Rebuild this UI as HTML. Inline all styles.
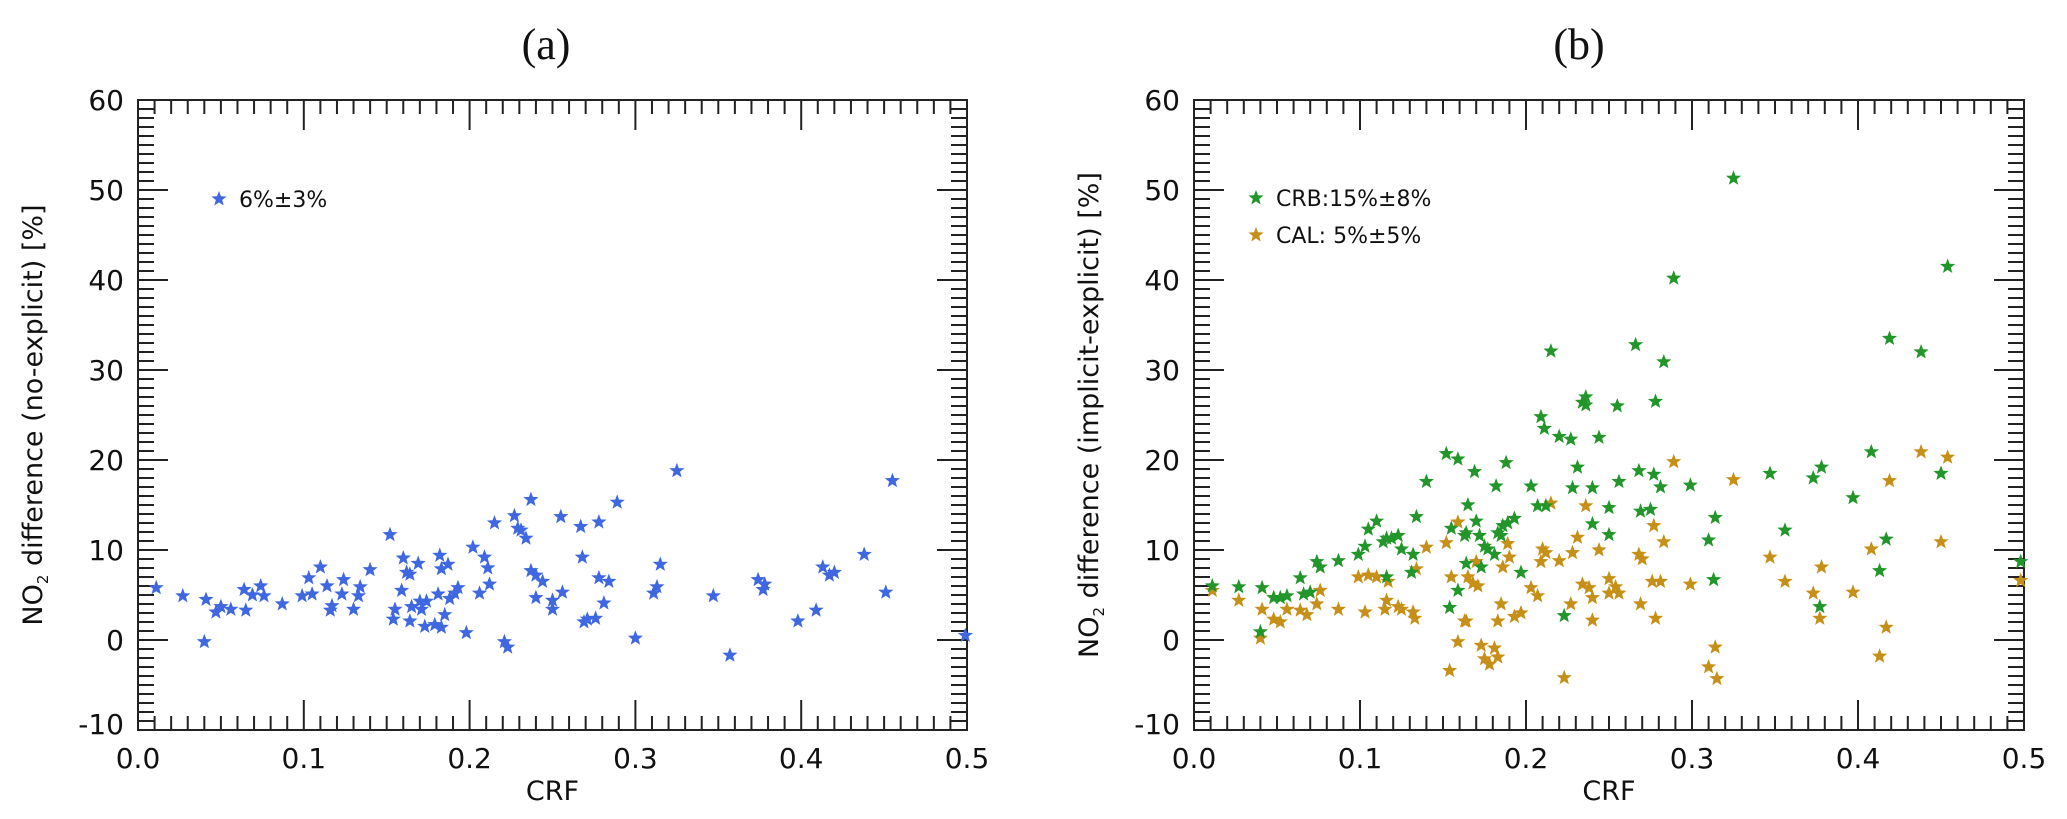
<!DOCTYPE html>
<html><head><meta charset="utf-8"><style>
html,body{margin:0;padding:0;background:#fff;}
svg{display:block;}
text{font-family:"DejaVu Sans","Liberation Sans",sans-serif;fill:#111;}
</style></head><body>
<svg id="fig" width="2067" height="819" viewBox="0 0 2067 819" xmlns="http://www.w3.org/2000/svg"></svg>
<script>
const xTicks=[0.0,0.1,0.2,0.3,0.4,0.5];
const xTickLabels=["0.0","0.1","0.2","0.3","0.4","0.5"];
const yTicks=[-10,0,10,20,30,40,50,60];
const yTickLabels=["-10","0","10","20","30","40","50","60"];
const aX=[.011,.027,.041,.040,.047,.050,.056,.064,.065,.069,.074,.076,.087,.099,.103,.105,.110,.114,.116,.117,.123,.124,.130,.133,.134,.140,.152,.154,.155,.159,.160,.162,.164,.164,.165,.169,.170,.171,.173,.174,.179,.181,.182,.183,.183,.185,.187,.188,.191,.193,.198,.202,.206,.209,.211,.212,.215,.221,.223,.227,.229,.231,.234,.237,.237,.240,.240,.244,.250,.250,.255,.256,.267,.268,.269,.271,.276,.278,.278,.281,.284,.289,.300,.311,.313,.315,.325,.347,.357,.374,.378,.377,.398,.409,.413,.417,.420,.438,.451,.455,.499];
const aY=[5.8,4.9,4.5,-0.2,3.1,3.7,3.4,5.6,3.3,5.0,6.0,4.9,4.0,4.9,6.9,5.1,8.1,6.0,3.3,3.8,5.1,6.7,3.4,4.9,5.9,7.8,11.7,2.3,3.4,5.5,9.1,7.5,7.3,2.1,3.7,8.5,4.3,3.4,1.5,4.3,1.7,5.1,9.4,1.4,7.9,2.8,8.4,4.6,5.2,5.8,0.8,10.3,5.2,9.2,8.0,6.2,13.0,-0.2,-0.8,13.8,12.4,12.2,11.3,15.6,7.7,7.2,4.7,6.5,3.4,4.4,13.7,5.3,12.6,9.2,2.0,2.3,2.4,13.1,6.9,4.1,6.5,15.3,0.2,5.2,5.9,8.4,18.8,4.9,-1.7,6.7,6.2,5.6,2.1,3.3,8.1,7.2,7.5,9.5,5.3,17.7,0.5];
const crbX=[.011,.027,.041,.040,.048,.052,.056,.064,.066,.070,.074,.076,.087,.099,.103,.105,.110,.114,.116,.119,.116,.123,.125,.132,.134,.131,.140,.152,.155,.154,.159,.159,.163,.164,.165,.164,.169,.170,.172,.173,.175,.177,.181,.183,.182,.185,.186,.188,.189,.193,.197,.203,.207,.209,.211,.212,.215,.220,.223,.227,.228,.231,.234,.236,.236,.240,.240,.244,.250,.250,.255,.256,.266,.268,.269,.275,.277,.278,.281,.283,.289,.299,.310,.314,.313,.325,.347,.356,.373,.378,.377,.397,.408,.413,.417,.419,.438,.450,.454,.498];
const crbY=[6.0,5.9,5.8,0.9,4.7,4.7,4.9,6.9,5.1,5.3,8.7,8.1,8.8,9.5,10.4,12.3,13.2,10.9,11.3,11.3,7.0,11.6,10.1,9.5,13.7,7.5,17.6,20.7,12.4,3.6,20.1,5.5,11.6,11.9,15.0,8.5,18.7,13.2,11.6,8.1,10.4,10.1,9.5,11.9,17.1,11.6,12.7,19.7,13.0,13.5,7.5,17.1,14.9,24.8,23.5,14.9,32.1,22.6,2.7,22.3,16.9,19.2,26.4,27.0,26.1,16.9,12.9,22.5,14.7,11.7,26.0,17.6,32.8,18.8,14.3,14.5,18.4,26.5,17.0,30.9,40.2,17.2,11.1,13.6,6.7,51.3,18.5,12.2,18.0,19.2,3.7,15.8,20.9,7.7,11.2,33.5,32.0,18.5,41.5,8.7];
const calX=[.011,.027,.041,.040,.048,.052,.056,.064,.068,.074,.076,.087,.099,.103,.105,.110,.115,.116,.117,.123,.125,.132,.133,.134,.140,.152,.154,.155,.159,.159,.163,.164,.165,.168,.170,.171,.173,.175,.178,.181,.183,.183,.185,.186,.189,.190,.193,.197,.203,.207,.209,.210,.212,.215,.220,.223,.227,.228,.231,.234,.236,.238,.240,.240,.244,.250,.250,.254,.256,.268,.269,.270,.276,.277,.278,.281,.283,.289,.299,.310,.314,.315,.325,.347,.356,.373,.378,.377,.397,.408,.413,.417,.419,.438,.450,.454,.498];
const calY=[5.5,4.4,3.4,0.2,2.3,2.0,3.4,3.3,2.8,4.0,5.5,3.4,7.0,3.1,7.2,7.0,3.4,4.4,6.5,3.7,3.4,3.1,2.4,7.9,10.3,10.8,-3.4,7.0,13.1,-0.2,2.1,2.1,7.0,6.3,8.7,6.0,-0.6,-2.1,-2.7,-0.9,-1.9,2.1,4.0,8.1,10.7,9.2,2.6,3.0,5.8,4.9,8.7,10.1,9.7,15.2,8.8,-4.2,4.0,9.7,11.4,6.2,14.9,5.8,4.7,2.2,10.0,6.8,5.2,5.9,5.2,9.5,4.0,9.0,6.5,12.7,2.4,6.5,10.9,19.8,6.2,-3.0,-0.8,-4.3,17.8,9.2,6.5,5.2,8.1,2.4,5.3,10.1,-1.8,1.4,17.7,20.9,10.9,20.3,6.6];

const NS="http://www.w3.org/2000/svg";
const svg=document.getElementById('fig');
function mk(tag,attrs,parent){const e=document.createElementNS(NS,tag);for(const k in attrs)e.setAttribute(k,attrs[k]);(parent||svg).appendChild(e);return e;}
function starPts(cx,cy,r){let p=[];for(let i=0;i<10;i++){const a=-Math.PI/2+i*Math.PI/5;const rr=i%2?r*0.42:r;p.push((cx+rr*Math.cos(a)).toFixed(1)+','+(cy+rr*Math.sin(a)).toFixed(1));}return p.join(' ');}

function panel(id,L,R,T,B,title,titleX,ytitle,ytX){
  const g=mk('g',{});
  
  
  const sx=v=>L+(v-0)/(0.5-0)*(R-L);
  const sy=v=>B-(v+10)/70*(B-T);
  let t=mk('text',{x:titleX,y:59,'font-size':44,'text-anchor':'middle',style:'font-family:"Liberation Serif",serif'},g);t.textContent=title;
  
  
  const fr=mk('rect',{x:L,y:T,width:R-L,height:B-T,fill:'none',stroke:'#222','stroke-width':2},g);
  
  
  let ticks='';
  for(let i=0;i<=50;i++){const x=sx(i*0.01);const len=i%10==0?30:14;ticks+=`M${x},${B}v${-len}M${x},${T}v${len}`;}
  for(let i=-10;i<=60;i++){const y=sy(i);const len=i%10==0?30:16;ticks+=`M${L},${y}h${len}M${R},${y}h${-len}`;}
  const tk=mk('path',{d:ticks,stroke:'#222','stroke-width':2,fill:'none'},g);
  
  
  xTicks.forEach((v,i)=>{const e=mk('text',{x:sx(v),y:B+38,'font-size':28,'text-anchor':'middle'},g);e.textContent=xTickLabels[i];
    
    });
  yTicks.forEach((v,i)=>{const e=mk('text',{x:L-14,y:sy(v)+(v==-10?4:10),'font-size':28,'text-anchor':'end'},g);e.textContent=yTickLabels[i];
    
    });
  const xt=mk('text',{x:(L+R)/2,y:800,'font-size':27,'text-anchor':'middle'},g);xt.textContent='CRF';
  
  
  const yt=mk('text',{x:0,y:0,'font-size':27,'text-anchor':'middle',transform:`translate(${ytX},${(T+B)/2}) rotate(-90)`},g);
  yt.innerHTML='NO<tspan font-size="15" dy="6">2</tspan><tspan dy="-6"> '+ytitle+'</tspan>';
  
  
  return {g,sx,sy};
}
function series(p,xs,ys,color,name){
  const g=mk('g',{fill:color},p.g);
  
  
  xs.forEach((x,i)=>{const s=mk('polygon',{points:starPts(p.sx(x),p.sy(ys[i]),8)},g);
    
    });
}
function legend(p,x,y,color,label){
  const g=mk('g',{},p.g);
  
  
  mk('polygon',{points:starPts(x,y,8)},g).setAttribute('fill',color);
  const t=mk('text',{x:x+20,y:y+8,'font-size':22},g);t.textContent=label;
}
const pa=panel('panel-a',138,967,100,730,'(a)',546,'difference (no-explicit) [%]',42);
series(pa,aX,aY,'#3f67e0','series-a');
legend(pa,219,199,'#3f67e0','6%±3%');
const pb=panel('panel-b',1194,2024,100,730,'(b)',1579,'difference (implicit-explicit) [%]',1098);
series(pb,calX,calY,'#c68f17','series-cal');
series(pb,crbX,crbY,'#22962a','series-crb');
legend(pb,1256,198,'#22962a','CRB:15%±8%');
legend(pb,1256,235,'#c68f17','CAL: 5%±5%');
</script>
</body></html>
